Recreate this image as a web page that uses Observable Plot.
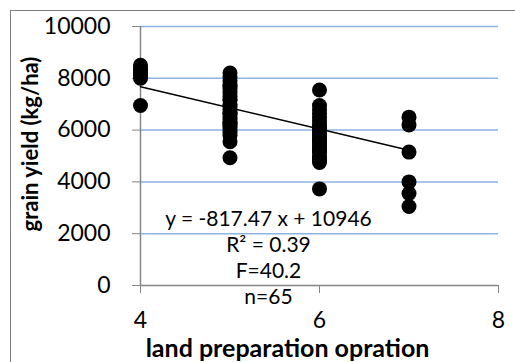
<!DOCTYPE html>
<html>
<head>
<meta charset="utf-8">
<script src="https://cdn.jsdelivr.net/npm/d3@7"></script>
<script src="https://cdn.jsdelivr.net/npm/@observablehq/plot@0.6"></script>
<style>
  html, body { margin: 0; padding: 0; background: #fff; overflow: hidden; }
  #wrap { position: relative; width: 515px; height: 362px; overflow: hidden; }
  #border { position: absolute; left: 10px; top: 10px; width: 700px; height: 700px;
            border: 1.5px solid #7f7f7f; box-sizing: border-box; pointer-events: none; }
  #chart { position: absolute; left: 0; top: 0; }
</style>
</head>
<body>
<div id="wrap"><div id="border"></div><div id="chart"></div></div>
<script>
// Data
const xOps4 = [8500, 8400, 8300, 8200, 8100, 8000, 6950];
const xOps5 = [8200, 8050, 7900, 7750, 7700, 7600, 7450, 7300, 7200, 7150, 7000, 6900, 6800, 6700, 6650, 6600, 6500, 6400, 6300, 6250, 6200, 6100, 6000, 5900, 5800, 5550, 4930];
const xOps6 = [7550, 6950, 6800, 6650, 6500, 6350, 6200, 6100, 6050, 5950, 5850, 5750, 5650, 5600, 5550, 5450, 5350, 5250, 5200, 5150, 5000, 4900, 4850, 4750, 3730];
const xOps7 = [6500, 6200, 5150, 4000, 3550, 3050];
const operations = [4, 5, 6, 7];
const xTicks = [4, 6, 8];
const yTicks = [0, 2000, 4000, 6000, 8000, 10000];
const slope = -817.47;
const intercept = 10946;
const trendX = [4, 7];
const annotationLines = ["y = -817.47 x + 10946", "R² = 0.39", "F=40.2", "n=65"];
const xTitle = "land preparation opration";
const yTitle = "grain yield (kg/ha)";

const groups = [xOps4, xOps5, xOps6, xOps7];
const points = groups.flatMap((vals, i) => vals.map(v => ({x: operations[i], y: v})));
const trend = trendX.map(x => ({x, y: slope * x + intercept}));

const axisGray = "#868686";
const plot = Plot.plot({
  width: 515,
  height: 362,
  marginLeft: 140,
  marginRight: 17,
  marginTop: 26,
  marginBottom: 77,
  style: {fontFamily: "Lato, sans-serif", fontSize: "22px", background: "transparent", color: "black"},
  x: {domain: [4, 8]},
  y: {domain: [0, 10000]},
  marks: [
    Plot.gridY(yTicks.filter(d => d > 0), {stroke: "#8db3e2", strokeOpacity: 1, strokeWidth: 1.5}),
    Plot.ruleX([4], {stroke: axisGray, strokeWidth: 1.5}),
    Plot.ruleY([0], {stroke: axisGray, strokeWidth: 1.5}),
    Plot.axisY({ticks: yTicks, tickSize: 8, tickPadding: 22, label: null, stroke: axisGray, fill: "black", fontSize: 23, tickFormat: d => String(d)}),
    Plot.axisX({ticks: xTicks, tickSize: 8, tickPadding: 18, label: null, stroke: axisGray, fill: "black", fontSize: 23, tickFormat: d => String(d)}),
    Plot.line(trend, {x: "x", y: "y", stroke: "black", strokeWidth: 1.5}),
    Plot.dot(points, {x: "x", y: "y", r: 7.5, fill: "black", stroke: "none"}),
    Plot.text([annotationLines.join("\n")], {x: 5.43, y: 1115, text: d => d, lineAnchor: "middle", lineHeight: 1.24, fontSize: 21, fill: "black"}),
    Plot.text([yTitle], {frameAnchor: "left", text: d => d, rotate: -90, dx: -110, dy: -12, textAnchor: "middle", lineAnchor: "middle", fontSize: 22, fontWeight: "bold", fill: "black"}),
    Plot.text([xTitle], {frameAnchor: "bottom", text: d => d, dx: -32, dy: 63, textAnchor: "middle", lineAnchor: "middle", fontSize: 25, fontWeight: "bold", fill: "black"})
  ]
});
document.getElementById("chart").appendChild(plot);
</script>
</body>
</html>
